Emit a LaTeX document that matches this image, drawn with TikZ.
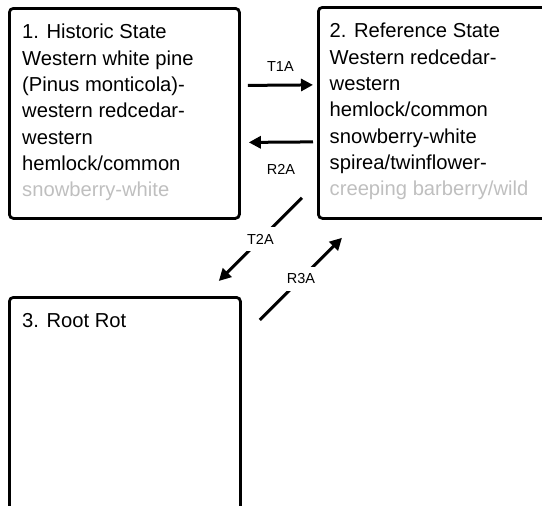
\documentclass[tikz,border=0pt]{standalone}
\usepackage{fontspec}
\setmainfont{Liberation Sans}
\usetikzlibrary{arrows.meta}
\colorlet{fadetext}{black!25}

\begin{document}
\begin{tikzpicture}[x=1pt,y=-1pt,
  statebox/.style={draw,line width=2.8pt,rounded corners=4pt,inner sep=0pt,anchor=north west},
  statetext/.style={anchor=north west,inner sep=0pt,align=left,font=\fontsize{20.2}{26.3}\selectfont},
  trans/.style={line width=3pt,-{Triangle[length=12pt,width=12pt]}},
  translab/.style={font=\fontsize{14.5}{16}\selectfont,inner sep=7pt}]
  \useasboundingbox (0,0) rectangle (542,506);
  \clip (0,0) rectangle (542,506);
  % boxes
  \node[statebox,minimum width=230pt,minimum height=210pt] (hist) at (8,7) {};
  \node[statebox,minimum width=240pt,minimum height=211pt] (ref) at (317,6) {};
  \node[statebox,minimum width=231pt,minimum height=230pt] (root) at (8,296) {};
  % texts
  \node[statetext] (histtxt) at ([xshift=14pt,yshift=-17pt]hist.north west)
    {1. Historic State\\Western white pine\\(Pinus monticola)-\\western redcedar-\\western\\hemlock/common\\{\color{fadetext}snowberry-white}};
  \node[statetext] (reftxt) at ([xshift=12.5pt,yshift=-17pt]ref.north west)
    {2. Reference State\\Western redcedar-\\western\\hemlock/common\\snowberry-white\\spirea/twinflower-\\{\color{fadetext}creeping barberry/wild}};
  \node[statetext] (roottxt) at ([xshift=14pt,yshift=-17pt]root.north west) {3. Root Rot};
  % transitions
  \draw[trans] ([xshift=7pt,yshift=28pt]hist.east) -- ([xshift=-4pt,yshift=28pt]ref.west)
    node[midway,yshift=19pt,translab] (t1a) {T1A};
  \draw[trans] ([xshift=-4pt,yshift=-29pt]ref.west) -- ([xshift=8pt,yshift=-29pt]hist.east)
    node[midway,yshift=-27pt,translab] (r2a) {R2A};
  \draw[trans] ([xshift=-15pt,yshift=22pt]ref.south west) -- ([xshift=-23pt,yshift=15pt]root.north east)
    node[midway,fill=white,translab] (t2a) {T2A};
  \draw[trans] ([xshift=18pt,yshift=-24pt]root.north east) -- ([xshift=25pt,yshift=-18pt]ref.south west)
    node[midway,fill=white,translab] (r3a) {R3A};
\end{tikzpicture}
\end{document}
